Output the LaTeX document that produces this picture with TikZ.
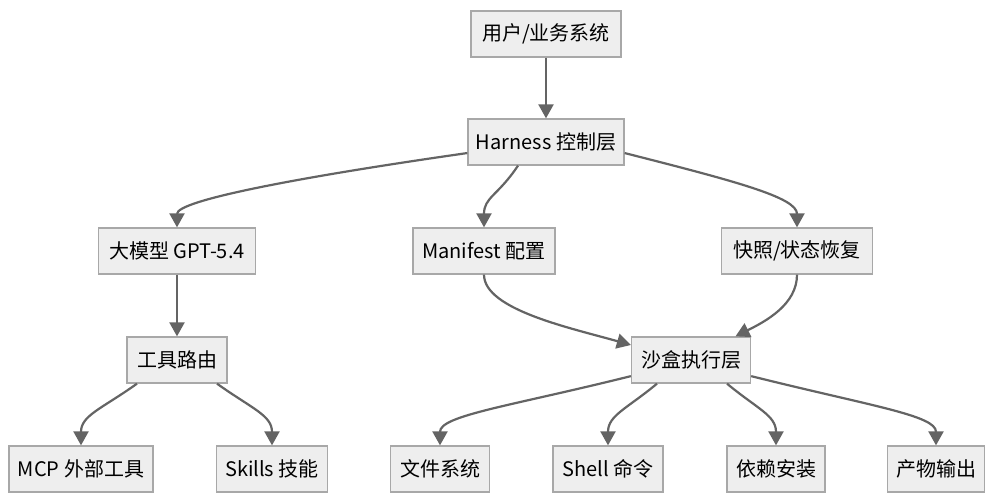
\documentclass[tikz,border=0pt]{standalone}
\usepackage{fontspec}
\setmainfont{Noto Sans CJK SC}
\usetikzlibrary{arrows.meta}
\definecolor{boxfill}{HTML}{EEEEEE}
\definecolor{boxline}{HTML}{A8A8A8}
\definecolor{edge}{HTML}{646464}
\begin{document}
\begin{tikzpicture}[x=1pt,y=1pt,
  box/.style={draw=boxline, fill=boxfill, line width=1.3pt, inner sep=0pt,
    minimum height=46pt, font=\fontsize{20}{23}\selectfont, text=black},
  link/.style={draw=edge, line width=2.2pt, -{Triangle[length=14pt,width=15pt]}}]
\useasboundingbox (0,0) rectangle (998,501);
\fill[white] (0,0) rectangle (998,501);
\node[box, minimum width=150pt] (u) at (546,467) {用户/业务系统};
\node[box, minimum width=156pt] (h) at (546,359) {Harness 控制层};
\node[box, minimum width=157pt] (llm) at (177,250) {大模型 GPT-5.4};
\node[box, minimum width=142pt] (man) at (484,250) {Manifest 配置};
\node[box, minimum width=151pt] (snap) at (797,250) {快照/状态恢复};
\node[box, minimum width=100pt] (tr) at (177,141) {工具路由};
\node[box, minimum width=119pt] (sb) at (691,141) {沙盒执行层};
\node[box, minimum width=144pt] (mcp) at (81,32) {MCP 外部工具};
\node[box, minimum width=111pt] (sk) at (272,32) {Skills 技能};
\node[box, minimum width=99pt] (fs) at (440,32) {文件系统};
\node[box, minimum width=110pt] (sh) at (608,32) {Shell 命令};
\node[box, minimum width=98pt] (dep) at (776,32) {依赖安装};
\node[box, minimum width=97pt] (out) at (936,32) {产物输出};

\draw[link] (u) -- (h);
\draw[link] (h.188) .. controls +(-168,-24) and +(0,27) .. (llm.north);
\draw[link] ([xshift=-28pt]h.south) .. controls +(-20,-30) and +(0,30) .. (man.north);
\draw[link] (h.-8) .. controls +(110,-28) and +(0,30) .. (snap.north);
\draw[link] (llm) -- (tr);
\draw[link] (man.south) .. controls +(0,-35) and +(-60,17) .. (sb.166);
\draw[link] (snap.south) .. controls +(0,-30) and +(30,15) .. (sb.28);
\draw[link] ([xshift=-40pt]tr.south) .. controls +(-35,-25) and +(0,30) .. (mcp.north);
\draw[link] ([xshift=40pt]tr.south) .. controls +(35,-25) and +(0,30) .. (sk.north);
\draw[link] (sb.-165) .. controls +(-120,-30) and +(0,30) .. (fs.north);
\draw[link] ([xshift=-34pt]sb.south) .. controls +(-30,-25) and +(0,30) .. (sh.north);
\draw[link] ([xshift=36pt]sb.south) .. controls +(30,-25) and +(0,30) .. (dep.north);
\draw[link] (sb.-15) .. controls +(120,-30) and +(0,30) .. (out.north);
\end{tikzpicture}
\end{document}
